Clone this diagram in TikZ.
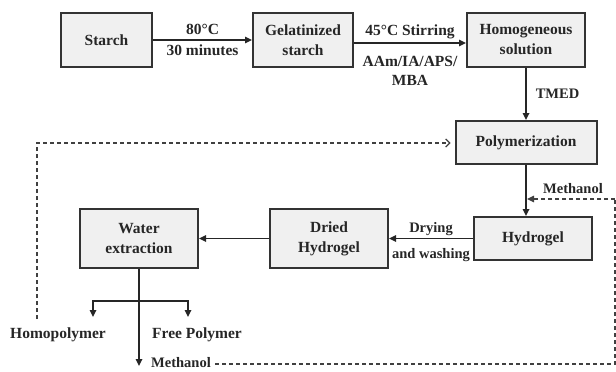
\documentclass[tikz,border=0pt]{standalone}
\usepackage{fontspec}
\setmainfont{Liberation Serif}
\usetikzlibrary{arrows.meta,positioning}
\tikzset{
  flow/box/.style={draw=black!80, line width=2pt, fill=black!6, minimum width=118pt, minimum height=54pt, align=center, inner sep=2pt, font=\fontsize{15.5}{20}\selectfont\bfseries, text=black!85},
  flow/line/.style={draw=black!85, line width=1.6pt, -{Triangle[length=7pt,width=6.5pt]}},
  flow/dash/.style={draw=black!75, line width=1.2pt, dash pattern=on 4pt off 3pt},
  flow/label/.style={inner sep=2pt, align=center, font=\fontsize{15.5}{19}\selectfont\bfseries, text=black!85},
  flow/small/.style={inner sep=2pt, align=center, font=\fontsize{14.5}{17}\selectfont\bfseries, text=black!85}
}

\begin{document}
\begin{tikzpicture}[x=1pt, y=-1pt]
  \useasboundingbox (0,0) rectangle (616,372);
  % Top row
  \node[flow/box, minimum width=91pt] (starch) at (106.5,40) {Starch};
  \node[flow/box, minimum width=100pt] (gel) at (303,40) {Gelatinized\\starch};
  \node[flow/box] (homog) at (526,40) {Homogeneous\\solution};

  \draw[flow/line] (starch) -- node[flow/label, above, yshift=3pt] {80°C}
    node[flow/label, below, yshift=-2pt] {30 minutes} (gel);
  \draw[flow/line] ([yshift=-3pt]gel.east) -- node[flow/label, above, yshift=1pt] {45°C Stirring}
    node[flow/label, below, yshift=-10pt] {AAm/IA/APS/\\MBA} ([yshift=-3pt]homog.west);

  % Right column
  \node[flow/box, minimum width=141pt, minimum height=43pt] (poly) at (526,142.5) {Polymerization};
  \node[flow/box, minimum height=43pt] (hydro) at (533,238.5) {Hydrogel};

  \draw[flow/line] (homog) -- node[flow/small, right=7pt] {TMED} (poly);
  \draw[flow/line] (poly.south) -- (poly.south |- hydro.north);

  % Middle row, right to left
  \node[flow/box, minimum height=59pt] (dried) at (329,238.5) {Dried\\Hydrogel};
  \node[flow/box, minimum height=59pt] (water) at (139,238.5) {Water\\extraction};

  \draw[flow/line] (hydro) -- node[flow/small, above] {Drying}
    node[flow/small, below, yshift=-7pt] {and washing} (dried);
  \draw[flow/line] (dried) -- (water);

  % Products of the extraction
  \coordinate (split) at (139,301);
  \coordinate (brL) at (93,317);
  \coordinate (brR) at (188,317);
  \coordinate (outB) at (139,366);
  \node[flow/label] (homo) at (58,335) {Homopolymer};
  \node[flow/label] (free) at (197,335) {Free Polymer};
  \node[flow/small, anchor=base, inner sep=1pt] (methB) at (181,367) {Methanol};

  \draw[flow/line, -] (water.south) -- (split);
  \draw[flow/line] (split) -| (brL);
  \draw[flow/line] (split) -| (brR);
  \draw[flow/line] (split) -- (outB);

  % Recycling loops
  \coordinate (loopR) at (615,364);
  \coordinate (loopT) at (615,199);
  \coordinate (loopIn) at (527,199);
  \node[flow/small] (methT) at (573,189) {Methanol};
  \draw[flow/dash] ([xshift=3pt]methB.east |- loopR) -- (loopR) -- (loopT);
  \draw[flow/dash, -{Triangle[length=7pt,width=6.5pt]}] (loopT) -- (loopIn);

  \coordinate (dashB) at (37,319);
  \coordinate (dashT) at (37,143);
  \draw[flow/dash, -{Straight Barb[length=4pt,width=8pt]}] (dashB) -- (dashT) -- ([xshift=-4pt]poly.west |- dashT);
\end{tikzpicture}
\end{document}
